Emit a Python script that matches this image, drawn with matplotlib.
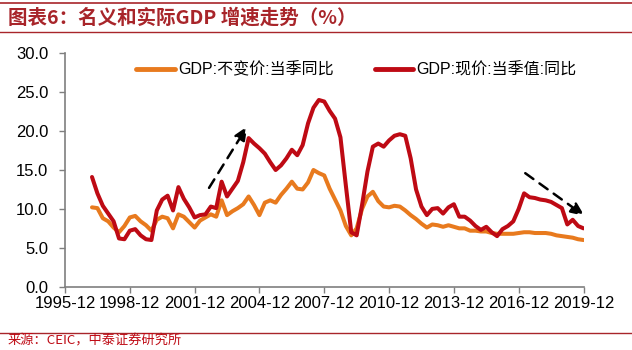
import numpy as np
import matplotlib
matplotlib.use("Agg")
import matplotlib.pyplot as plt

plt.rcParams['font.family'] = ['Liberation Sans', 'Noto Sans CJK SC', 'DejaVu Sans']

# quarterly data, 1997Q1 .. 2019Q4
start_year = 1997
real_gdp = [
    10.2, 10.1, 8.8, 8.4,      # 1997
    7.6, 7.0, 7.8, 8.9,        # 1998
    9.1, 8.4, 7.9, 7.2,        # 1999
    8.6, 9.0, 8.8, 7.5,        # 2000
    9.3, 9.0, 8.3, 7.6,        # 2001
    8.5, 8.9, 9.3, 9.0,        # 2002
    11.1, 9.2, 9.7, 10.1,      # 2003
    10.6, 11.6, 10.5, 9.2,     # 2004
    10.8, 11.1, 10.8, 11.8,    # 2005
    12.6, 13.5, 12.6, 12.5,    # 2006
    13.4, 15.0, 14.6, 14.3,    # 2007
    12.6, 11.2, 9.8, 7.8,      # 2008
    6.6, 7.5, 10.0, 11.6,      # 2009
    12.2, 11.0, 10.3, 10.2,    # 2010
    10.4, 10.3, 9.8, 9.2,      # 2011
    8.7, 8.1, 7.6, 8.0,        # 2012
    7.9, 7.7, 7.9, 7.7,        # 2013
    7.5, 7.5, 7.2, 7.2,        # 2014
    7.1, 7.1, 6.9, 6.8,        # 2015
    6.8, 6.8, 6.8, 6.9,        # 2016
    7.0, 7.0, 6.9, 6.9,        # 2017
    6.9, 6.8, 6.6, 6.5,        # 2018
    6.4, 6.3, 6.1, 6.0,        # 2019
]
nominal_gdp = [
    14.1, 12.0, 10.4, 9.4,     # 1997
    8.4, 6.2, 6.1, 7.2,        # 1998
    7.4, 6.6, 6.1, 6.0,        # 1999
    9.8, 11.2, 11.7, 9.8,      # 2000
    12.8, 11.3, 10.2, 8.9,     # 2001
    9.2, 9.3, 10.3, 10.1,      # 2002
    13.5, 11.6, 12.6, 13.6,    # 2003
    16.0, 19.1, 18.4, 17.8,    # 2004
    17.1, 16.0, 15.0, 15.6,    # 2005
    16.5, 17.6, 16.9, 18.2,    # 2006
    21.0, 23.0, 24.0, 23.8,    # 2007
    22.6, 21.6, 19.2, 13.0,    # 2008
    7.0, 6.6, 10.5, 14.8,      # 2009
    18.0, 18.4, 18.0, 18.8,    # 2010
    19.4, 19.6, 19.4, 16.5,    # 2011
    12.5, 10.3, 9.2, 10.0,     # 2012
    10.1, 9.4, 10.2, 10.6,     # 2013
    9.0, 9.0, 8.5, 7.8,        # 2014
    7.3, 7.7, 7.0, 6.5,        # 2015
    7.4, 7.8, 8.4, 10.0,       # 2016
    12.0, 11.5, 11.4, 11.2,    # 2017
    11.1, 10.9, 10.5, 10.1,    # 2018
    8.0, 8.6, 7.8, 7.5,        # 2019
]
tick_labels = ["1995-12", "1998-12", "2001-12", "2004-12", "2007-12",
               "2010-12", "2013-12", "2016-12", "2019-12"]
label_real = "GDP:不变价:当季同比"
label_nominal = "GDP:现价:当季值:同比"

# quarter-end dates as decimal years (Q4 of year Y -> Y+1.0)
n = len(real_gdp)
x = start_year + 0.25 * np.arange(1, n + 1)
tick_pos = [1996 + 3 * i for i in range(len(tick_labels))]

ORANGE = "#E87A1E"
RED = "#BE0A14"
DARK_RED = "#A8252A"

fig = plt.figure(figsize=(6.32, 3.5), dpi=100)
ax = fig.add_axes([65 / 632, 1 - 286.7 / 350, (583.5 - 65) / 632, (286.7 - 53.3) / 350])

ax.plot(x, real_gdp, color=ORANGE, lw=2.9, solid_joinstyle="round",
        solid_capstyle="round", label=label_real)
ax.plot(x, nominal_gdp, color=RED, lw=2.9, solid_joinstyle="round",
        solid_capstyle="round", label=label_nominal)

ax.set_xlim(1996, 2020)
ax.set_ylim(0, 30)
ax.set_yticks(np.arange(0, 31, 5))
ax.set_yticklabels([f"{v:.1f}" for v in np.arange(0, 31, 5)])
ax.set_xticks(tick_pos)
ax.set_xticklabels(tick_labels)
ax.tick_params(axis="both", labelsize=12, colors="#000000", length=4, width=1,
               direction="out")
ax.tick_params(axis="y", pad=8)
ax.tick_params(axis="x", pad=3)
for side in ["top", "right"]:
    ax.spines[side].set_visible(False)
for side in ["left", "bottom"]:
    ax.spines[side].set_color("#7f7f7f")
    ax.spines[side].set_linewidth(1.2)
ax.tick_params(axis="both", color="#7f7f7f")

# trend arrows
arrow_style = dict(arrowstyle="-|>,head_length=0.8,head_width=0.35",
                   color="black", lw=1.8, linestyle=(0, (4, 3)))
ax.annotate("", xy=(2004.5, 20.9), xytext=(2002.6, 12.4), arrowprops=arrow_style)
ax.annotate("", xy=(2020.15, 8.9), xytext=(2017.2, 14.8), arrowprops=arrow_style,
            annotation_clip=False)

leg = ax.legend(loc="upper left", bbox_to_anchor=(0.11, 1.025), ncol=2,
                frameon=False, fontsize=11.5, handlelength=2.4,
                handletextpad=0.2, columnspacing=2.6)
for line in leg.get_lines():
    line.set_linewidth(3.5)

# header / footer
fig.add_artist(plt.Line2D([0, 1], [1 - 3 / 350, 1 - 3 / 350], color=DARK_RED, lw=1.2))
fig.add_artist(plt.Line2D([0, 1], [1 - 32 / 350, 1 - 32 / 350], color=DARK_RED, lw=1.0))
fig.add_artist(plt.Line2D([0, 1], [1 - 333 / 350, 1 - 333 / 350], color=DARK_RED, lw=1.0))
fig.text(8 / 632, 1 - 18 / 350, "图表6：名义和实际GDP 增速走势（%）", color=DARK_RED,
         fontsize=14, fontweight="bold", va="center", ha="left",
         family=["Noto Sans CJK SC", "DejaVu Sans"])
fig.text(8 / 632, 1 - 341 / 350, "来源：CEIC，中泰证券研究所", color=RED,
         fontsize=9.5, va="center", ha="left",
         family=["Noto Sans CJK SC", "DejaVu Sans"])

fig.savefig("out.png", dpi=100)
